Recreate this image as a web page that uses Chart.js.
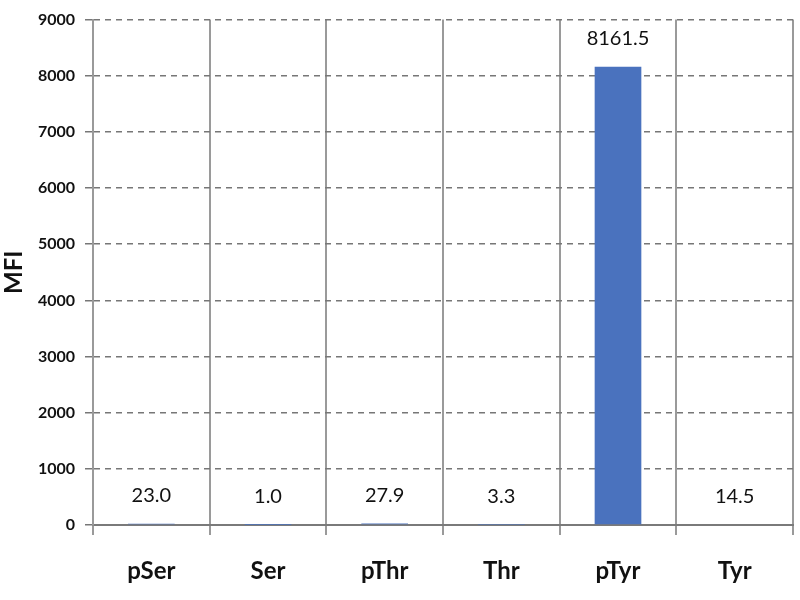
<!DOCTYPE html>
<html>
<head>
<meta charset="utf-8">
<script src="https://cdn.jsdelivr.net/npm/chart.js@4"></script>
<style>
html,body{margin:0;padding:0;background:#fff;}
#wrap{width:800px;height:600px;}
</style>
</head>
<body>
<div id="wrap"><canvas id="c" width="800" height="600"></canvas></div>
<script>
const categories = ["pSer", "Ser", "pThr", "Thr", "pTyr", "Tyr"];
const mfiValues = [23.0, 1.0, 27.9, 3.3, 8161.5, 14.5];
const yTicks = [0, 1000, 2000, 3000, 4000, 5000, 6000, 7000, 8000, 9000];

const labelPlugin = {
  id: 'valueLabels',
  afterDatasetsDraw(chart) {
    const ctx = chart.ctx;
    const meta = chart.getDatasetMeta(0);
    ctx.save();
    ctx.font = '20px Lato';
    ctx.fillStyle = '#111';
    ctx.textAlign = 'center';
    ctx.textBaseline = 'middle';
    meta.data.forEach((bar, i) => {
      ctx.fillText(mfiValues[i].toFixed(1), bar.x, bar.y - 28);
    });
    ctx.restore();
  }
};

new Chart(document.getElementById('c'), {
  type: 'bar',
  data: {
    labels: categories,
    datasets: [{
      data: mfiValues,
      backgroundColor: '#4a72be',
      categoryPercentage: 1,
      barPercentage: 0.4
    }]
  },
  options: {
    responsive: false,
    animation: false,
    layout: { padding: { left: 0, right: 7, top: 15, bottom: 0 } },
    plugins: { legend: { display: false }, tooltip: { enabled: false } },
    scales: {
      x: {
        grid: { offset: true, color: '#9a9a9a', lineWidth: 2, tickLength: 10, drawOnChartArea: true },
        border: { color: '#7a7a7a', width: 2 },
        ticks: { color: '#111', font: { family: 'Lato', size: 24, weight: 'bold' }, padding: 22 },
        afterFit(s) { s.height = 75; }
      },
      y: {
        min: 0, max: 9000,
        afterBuildTicks(s) { s.ticks = yTicks.map(v => ({ value: v })); },
        grid: { color: '#777', lineWidth: 1.5, tickLength: 8 },
        border: { color: '#9a9a9a', width: 2, dash: [6, 5] },
        ticks: { color: '#111', font: { family: 'Lato', size: 16, weight: 'bold' }, padding: 10,
                 callback: (v) => String(v) },
        title: { display: true, text: 'MFI', color: '#111', font: { family: 'Lato', size: 24, weight: 'bold' }, padding: 0 },
        afterFit(s) { s.width = 93; }
      }
    }
  },
  plugins: [labelPlugin]
});
</script>
</body>
</html>
